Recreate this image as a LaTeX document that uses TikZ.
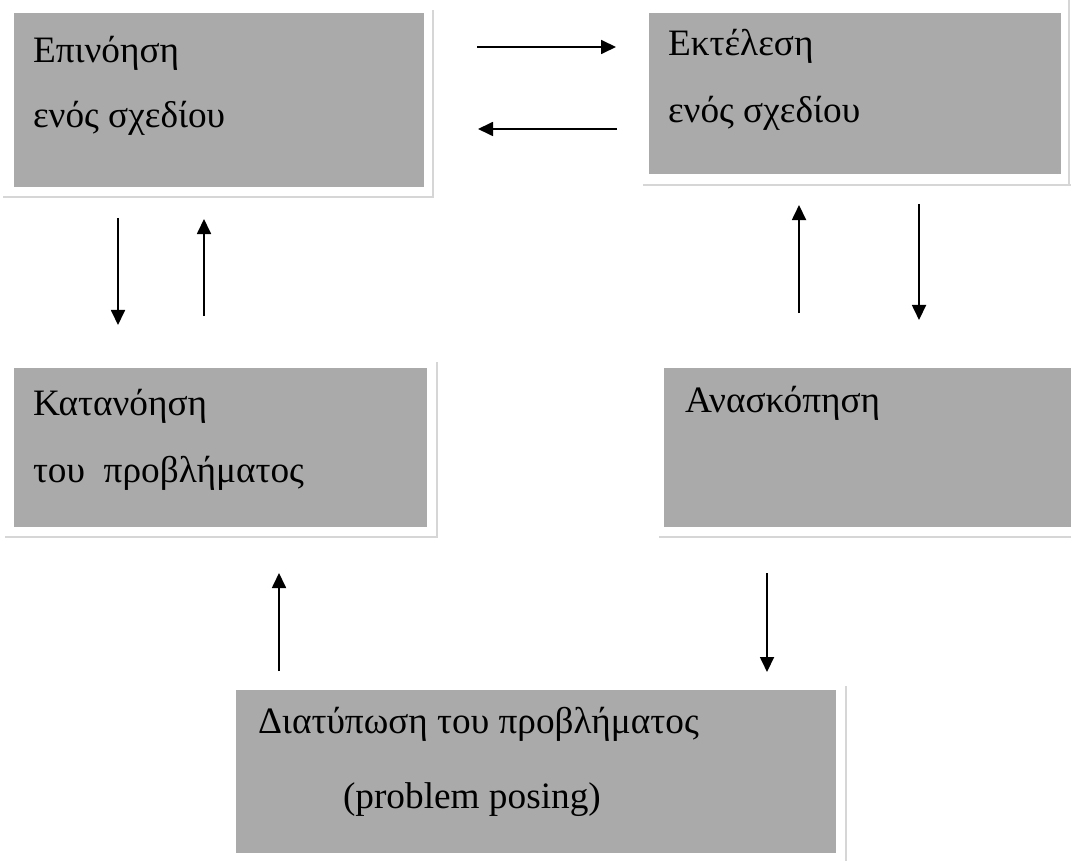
\documentclass[tikz,border=0pt]{standalone}
\usepackage{fontspec}
\setmainfont{Liberation Serif}
\usetikzlibrary{arrows.meta}
\definecolor{boxgray}{RGB}{170,170,170}
\definecolor{shadegray}{RGB}{214,214,214}
\tikzset{
  x=0.01cm, y=-0.01cm,
  panel/.style={fill=boxgray, draw=none, inner sep=0pt, outer sep=0pt, rectangle},
  edgeline/.style={draw=shadegray, line width=0.7pt},
  label/.style={anchor=base west, inner sep=0pt, outer sep=0pt, font=\fontsize{10.6pt}{12pt}\selectfont},
  flow/.style={line width=0.5pt, -{Triangle[length=0.15cm,width=0.14cm]}}
}
\begin{document}
\begin{tikzpicture}
\useasboundingbox (0,0) rectangle (1071,861);
% boxes
\node[panel, minimum width=4.10cm, minimum height=1.74cm] (boxA) at (219,100) {};
\node[panel, minimum width=4.12cm, minimum height=1.61cm] (boxB) at (855,93.5) {};
\node[panel, minimum width=4.13cm, minimum height=1.59cm] (boxC) at (220.5,447.5) {};
\node[panel, minimum width=4.07cm, minimum height=1.59cm] (boxD) at (867.5,447.5) {};
\node[panel, minimum width=6.00cm, minimum height=1.63cm] (boxE) at (536,771.5) {};
% faint edges
\draw[edgeline] (3,197) -- (433,197) -- (433,10);
\draw[edgeline] (643,185) -- (1071,185);
\draw[edgeline] (1069,0) -- (1069,185);
\draw[edgeline] (5,537) -- (437,537) -- (437,362);
\draw[edgeline] (659,537) -- (1071,537);
\draw[edgeline] (846,686) -- (846,861);
% texts
\node[label] (tA1) at (33,63) {Επινόηση};
\node[label] (tA2) at (33,128) {ενός σχεδίου};
\node[label] (tB1) at (668,56) {Εκτέλεση};
\node[label] (tB2) at (668,123) {ενός σχεδίου};
\node[label] (tC1) at (33,415) {Κατανόηση};
\node[label] (tC2) at (33,482) {του\ \ προβλήματος};
\node[label] (tD1) at (685,412) {Ανασκόπηση};
\node[label] (tE1) at (258,733) {Διατύπωση του προβλήματος};
\node[label] (tE2) at (343,808) {(problem posing)};
% arrow end points
\coordinate (p1s) at (477,47);  \coordinate (p1e) at (616,47);
\coordinate (p2s) at (617,129); \coordinate (p2e) at (478,129);
\coordinate (p3s) at (118,218); \coordinate (p3e) at (118,325);
\coordinate (p4s) at (204,316); \coordinate (p4e) at (204,219);
\coordinate (p5s) at (799,313); \coordinate (p5e) at (799,205);
\coordinate (p6s) at (919,204); \coordinate (p6e) at (919,320);
\coordinate (p7s) at (279,671); \coordinate (p7e) at (279,573);
\coordinate (p8s) at (767,573); \coordinate (p8e) at (767,672);
\draw[flow] (p1s) -- (p1e);
\draw[flow] (p2s) -- (p2e);
\draw[flow] (p3s) -- (p3e);
\draw[flow] (p4s) -- (p4e);
\draw[flow] (p5s) -- (p5e);
\draw[flow] (p6s) -- (p6e);
\draw[flow] (p7s) -- (p7e);
\draw[flow] (p8s) -- (p8e);
\end{tikzpicture}
\end{document}
